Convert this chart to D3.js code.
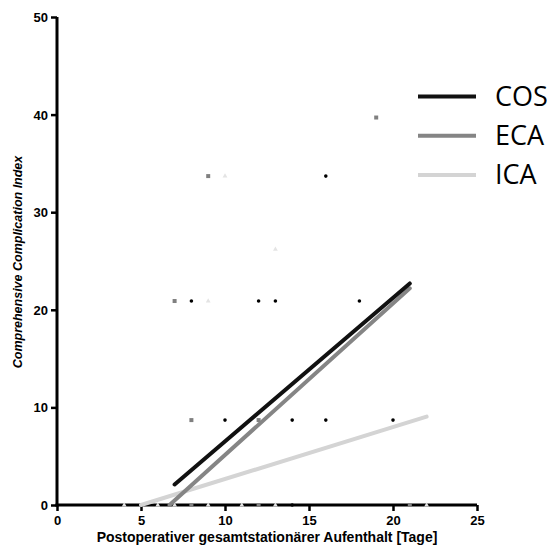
<!DOCTYPE html>
<html>
<head>
<meta charset="utf-8">
<script src="https://cdn.jsdelivr.net/npm/d3@7"></script>
<style>
  body { margin: 0; background: #fff; }
  .tick text { font-family: "Liberation Sans", Arial, sans-serif; font-weight: bold; font-size: 13px; fill: #000; }
</style>
</head>
<body>
<svg id="chart" width="547" height="547"></svg>
<script>
// scatter points, one array per group: [days, CCI]
var cosPoints = [[16,33.7],[8,20.9],[12,20.9],[13,20.9],[18,20.9],[10,8.7],[14,8.7],[16,8.7],[20,8.7],[14,0]];
var ecaPoints = [[19,39.7],[9,33.7],[7,20.9],[8,8.7],[12,8.7],[8,0],[12,0],[21,0]];
var icaPoints = [[10,33.7],[13,26.2],[9,20.9],[4,0],[6,0],[7,0],[9,0],[11,0],[13,0],[22,0]];

// regression lines, start and end
var cosLine = [[7,2.1],[21,22.7]];
var ecaLine = [[6.7,0],[21,22.2]];
var icaLine = [[5,0],[22,9.05]];

var groups = ["COS", "ECA", "ICA"];
var xTicks = [0,5,10,15,20,25];
var yTicks = [0,10,20,30,40,50];

var colors = {COS: "#000000", ECA: "#808080", ICA: "#d4d4d4"};
var lineColors = {COS: "#111111", ECA: "#858585", ICA: "#d4d4d4"};

var svg = d3.select("#chart");
var plotLeft = 57, plotTop = 17, plotRight = 477, plotBottom = 505;

var x = d3.scaleLinear().domain([0,25]).range([plotLeft, plotRight]);
var y = d3.scaleLinear().domain([0,50]).range([plotBottom, plotTop]);

// axes
var xAxis = svg.append("g")
	.attr("transform", "translate(0," + plotBottom + ")")
	.call(d3.axisBottom(x).tickValues(xTicks).tickSize(6).tickPadding(3));
var yAxis = svg.append("g")
	.attr("transform", "translate(" + plotLeft + ",0)")
	.call(d3.axisLeft(y).tickValues(yTicks).tickSize(6).tickPadding(3));
[xAxis, yAxis].forEach(function(a){
	a.select(".domain").attr("stroke", "#000").attr("stroke-width", 3);
	a.selectAll(".tick line").attr("stroke", "#000").attr("stroke-width", 2.5);
});
xAxis.select(".domain").attr("d", "M" + (plotLeft-1.5) + ",0H" + plotRight);
yAxis.select(".domain").attr("d", "M0," + plotTop + "V" + (plotBottom+1.5));
xAxis.selectAll(".tick text").attr("dy", "0.85em");
yAxis.selectAll(".tick text").attr("dy", "0.35em");

// axis titles
svg.append("text")
	.attr("x", 267).attr("y", 542)
	.attr("text-anchor", "middle")
	.style("font-family", "Liberation Sans, Arial, sans-serif")
	.style("font-weight", "bold").style("font-size", "14px")
	.text("Postoperativer gesamtstationärer Aufenthalt [Tage]");
svg.append("text")
	.attr("transform", "translate(22,262) rotate(-90)")
	.attr("text-anchor", "middle")
	.style("font-family", "Liberation Sans, Arial, sans-serif")
	.style("font-weight", "bold").style("font-style", "italic").style("font-size", "12.5px")
	.text("Comprehensive Complication Index");

// points
var plot = svg.append("g");
plot.selectAll("circle.cos").data(cosPoints).enter().append("circle")
	.attr("cx", function(d){ return x(d[0]); })
	.attr("cy", function(d){ return y(d[1]); })
	.attr("r", 1.8).attr("fill", colors.COS);
plot.selectAll("rect.eca").data(ecaPoints).enter().append("rect")
	.attr("x", function(d){ return x(d[0]) - 2; })
	.attr("y", function(d){ return y(d[1]) - 2; })
	.attr("width", 4).attr("height", 4).attr("fill", colors.ECA);
plot.selectAll("path.ica").data(icaPoints).enter().append("path")
	.attr("d", d3.symbol().type(d3.symbolTriangle).size(10))
	.attr("transform", function(d){ return "translate(" + x(d[0]) + "," + y(d[1]) + ")"; })
	.attr("fill", "#e4e4e4");

// regression lines
var line = d3.line().x(function(d){ return x(d[0]); }).y(function(d){ return y(d[1]); });
[["ICA", icaLine], ["ECA", ecaLine], ["COS", cosLine]].forEach(function(g){
	plot.append("path")
		.attr("d", line(g[1]))
		.attr("stroke", lineColors[g[0]])
		.attr("stroke-width", 4)
		.attr("stroke-linecap", "round")
		.attr("fill", "none");
});

// legend
var legend = svg.append("g");
groups.forEach(function(name, i){
	var ly = 96.5 + i * 39.3;
	legend.append("line")
		.attr("x1", 418).attr("x2", 476)
		.attr("y1", ly).attr("y2", ly)
		.attr("stroke", lineColors[name]).attr("stroke-width", 4);
	legend.append("text")
		.attr("x", 495).attr("y", ly + 9)
		.style("font-family", "Open Sans, sans-serif")
		.style("font-size", "27px")
		.attr("fill", "#000")
		.text(name);
});
</script>
</body>
</html>
